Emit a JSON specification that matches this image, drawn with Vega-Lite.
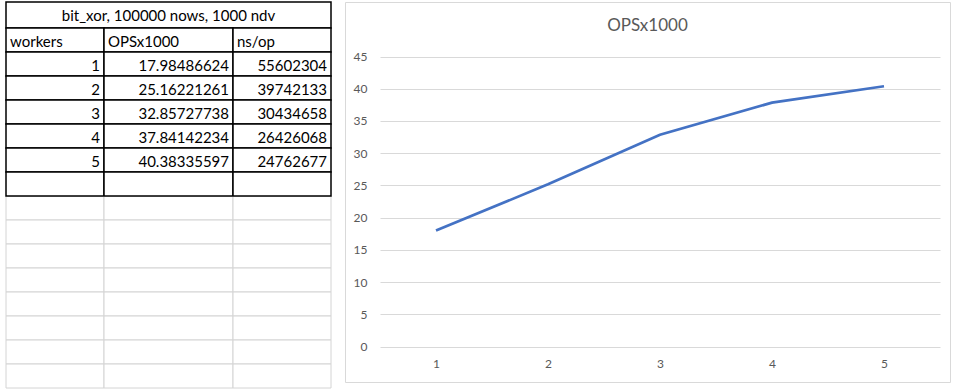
{
  "$schema": "https://vega.github.io/schema/vega-lite/v6.json",
  "padding": {"left": 5, "top": 1, "right": 0, "bottom": 0},
  "background": "white",
  "datasets": {
    "caption": [{"text": "bit_xor, 100000 nows, 1000 ndv"}],
    "table": [
      {"row": 0, "workers": "workers", "OPSx1000": "OPSx1000", "ns/op": "ns/op"},
      {"row": 1, "workers": "1", "OPSx1000": "17.98486624", "ns/op": "55602304"},
      {"row": 2, "workers": "2", "OPSx1000": "25.16221261", "ns/op": "39742133"},
      {"row": 3, "workers": "3", "OPSx1000": "32.85727738", "ns/op": "30434658"},
      {"row": 4, "workers": "4", "OPSx1000": "37.84142234", "ns/op": "26426068"},
      {"row": 5, "workers": "5", "OPSx1000": "40.38335597", "ns/op": "24762677"},
      {"row": 6, "workers": "", "OPSx1000": "", "ns/op": ""},
      {"row": 7, "workers": "", "OPSx1000": "", "ns/op": ""},
      {"row": 8, "workers": "", "OPSx1000": "", "ns/op": ""},
      {"row": 9, "workers": "", "OPSx1000": "", "ns/op": ""},
      {"row": 10, "workers": "", "OPSx1000": "", "ns/op": ""},
      {"row": 11, "workers": "", "OPSx1000": "", "ns/op": ""},
      {"row": 12, "workers": "", "OPSx1000": "", "ns/op": ""},
      {"row": 13, "workers": "", "OPSx1000": "", "ns/op": ""},
      {"row": 14, "workers": "", "OPSx1000": "", "ns/op": ""}
    ],
    "runs": [
      {"workers": 1, "ops": 17.98486624},
      {"workers": 2, "ops": 25.16221261},
      {"workers": 3, "ops": 32.85727738},
      {"workers": 4, "ops": 37.84142234},
      {"workers": 5, "ops": 40.38335597}
    ]
  },
  "config": {
    "view": {"stroke": null},
    "font": "Lato",
    "text": {"font": "Lato", "fontSize": 15, "color": "black"}
  },
  "hconcat": [
    {
      "bounds": "flush",
      "spacing": 0,
      "vconcat": [
        {
          "width": 325,
          "height": 26,
          "view": {"stroke": "black", "strokeWidth": 1.5, "fill": "white"},
          "data": {"name": "caption"},
          "mark": {"type": "text", "baseline": "middle", "dy": 1},
          "encoding": {"text": {"field": "text", "type": "nominal"}}
        },
        {
          "bounds": "flush",
          "spacing": 0,
          "hconcat": [
            {
              "width": 98,
              "height": 360,
              "data": {"name": "table"},
              "transform": [
                {"fold": ["workers", "OPSx1000", "ns/op"], "as": ["col", "text"]},
                {"filter": "datum.col === 'workers'"}
              ],
              "encoding": {
                "x": {"field": "col", "type": "nominal", "axis": null, "scale": {"paddingInner": 0, "paddingOuter": 0}},
                "y": {"field": "row", "type": "ordinal", "axis": null, "scale": {"domain": [0,1,2,3,4,5,6,7,8,9,10,11,12,13,14], "paddingInner": 0, "paddingOuter": 0}}
              },
              "layer": [
                {"transform": [{"filter": "datum.row > 6"}], "mark": {"type": "rect", "fill": "white", "stroke": "#d4d4d4", "strokeWidth": 1}},
                {"transform": [{"filter": "datum.row <= 6"}], "mark": {"type": "rect", "fill": "white", "stroke": "black", "strokeWidth": 1.5}},
                {"transform": [{"filter": "datum.row === 0"}],
                  "mark": {"type": "text", "align": "left", "dx": 4, "baseline": "middle", "dy": 2},
                  "encoding": {"x": {"field": "col", "type": "nominal", "bandPosition": 0, "axis": null, "scale": {"paddingInner": 0, "paddingOuter": 0}}, "text": {"field": "text", "type": "nominal"}}},
                {"transform": [{"filter": "datum.row > 0"}],
                  "mark": {"type": "text", "align": "right", "dx": -4, "baseline": "middle", "dy": 2},
                  "encoding": {"x": {"field": "col", "type": "nominal", "bandPosition": 1, "axis": null, "scale": {"paddingInner": 0, "paddingOuter": 0}}, "text": {"field": "text", "type": "nominal"}}}
              ]
            },
            {
              "width": 129,
              "height": 360,
              "data": {"name": "table"},
              "transform": [
                {"fold": ["workers", "OPSx1000", "ns/op"], "as": ["col", "text"]},
                {"filter": "datum.col === 'OPSx1000'"}
              ],
              "encoding": {
                "x": {"field": "col", "type": "nominal", "axis": null, "scale": {"paddingInner": 0, "paddingOuter": 0}},
                "y": {"field": "row", "type": "ordinal", "axis": null, "scale": {"domain": [0,1,2,3,4,5,6,7,8,9,10,11,12,13,14], "paddingInner": 0, "paddingOuter": 0}}
              },
              "layer": [
                {"transform": [{"filter": "datum.row > 6"}], "mark": {"type": "rect", "fill": "white", "stroke": "#d4d4d4", "strokeWidth": 1}},
                {"transform": [{"filter": "datum.row <= 6"}], "mark": {"type": "rect", "fill": "white", "stroke": "black", "strokeWidth": 1.5}},
                {"transform": [{"filter": "datum.row === 0"}],
                  "mark": {"type": "text", "align": "left", "dx": 4, "baseline": "middle", "dy": 2},
                  "encoding": {"x": {"field": "col", "type": "nominal", "bandPosition": 0, "axis": null, "scale": {"paddingInner": 0, "paddingOuter": 0}}, "text": {"field": "text", "type": "nominal"}}},
                {"transform": [{"filter": "datum.row > 0"}],
                  "mark": {"type": "text", "align": "right", "dx": -4, "baseline": "middle", "dy": 2},
                  "encoding": {"x": {"field": "col", "type": "nominal", "bandPosition": 1, "axis": null, "scale": {"paddingInner": 0, "paddingOuter": 0}}, "text": {"field": "text", "type": "nominal"}}}
              ]
            },
            {
              "width": 98,
              "height": 360,
              "data": {"name": "table"},
              "transform": [
                {"fold": ["workers", "OPSx1000", "ns/op"], "as": ["col", "text"]},
                {"filter": "datum.col === 'ns/op'"}
              ],
              "encoding": {
                "x": {"field": "col", "type": "nominal", "axis": null, "scale": {"paddingInner": 0, "paddingOuter": 0}},
                "y": {"field": "row", "type": "ordinal", "axis": null, "scale": {"domain": [0,1,2,3,4,5,6,7,8,9,10,11,12,13,14], "paddingInner": 0, "paddingOuter": 0}}
              },
              "layer": [
                {"transform": [{"filter": "datum.row > 6"}], "mark": {"type": "rect", "fill": "white", "stroke": "#d4d4d4", "strokeWidth": 1}},
                {"transform": [{"filter": "datum.row <= 6"}], "mark": {"type": "rect", "fill": "white", "stroke": "black", "strokeWidth": 1.5}},
                {"transform": [{"filter": "datum.row === 0"}],
                  "mark": {"type": "text", "align": "left", "dx": 4, "baseline": "middle", "dy": 2},
                  "encoding": {"x": {"field": "col", "type": "nominal", "bandPosition": 0, "axis": null, "scale": {"paddingInner": 0, "paddingOuter": 0}}, "text": {"field": "text", "type": "nominal"}}},
                {"transform": [{"filter": "datum.row > 0"}],
                  "mark": {"type": "text", "align": "right", "dx": -4, "baseline": "middle", "dy": 2},
                  "encoding": {"x": {"field": "col", "type": "nominal", "bandPosition": 1, "axis": null, "scale": {"paddingInner": 0, "paddingOuter": 0}}, "text": {"field": "text", "type": "nominal"}}}
              ]
            }
          ]
        }
      ]
    },
    {
      "width": 605,
      "height": 380,
      "view": {"stroke": "#d9d9d9", "strokeWidth": 1, "fill": "white"},
      "title": {"text": "OPSx1000", "offset": -31, "dy": 15, "fontSize": 17, "font": "Lato", "fontWeight": "normal", "color": "#595959", "anchor": "middle", "frame": "group", "baseline": "alphabetic"},
      "data": {"name": "runs"},
      "mark": {"type": "line", "color": "#4472c4", "strokeWidth": 2.75},
      "encoding": {
        "x": {"field": "workers", "type": "ordinal",
          "scale": {"range": [35, 595], "paddingInner": 0, "paddingOuter": 0},
          "axis": {"title": null, "labelAngle": 0, "domain": false, "ticks": false, "grid": false, "offset": -35.5, "labelPadding": 12, "labelColor": "#595959", "labelFontSize": 12, "labelFont": "Lato"}},
        "y": {"field": "ops", "type": "quantitative",
          "scale": {"domain": [0, 45], "range": [344.5, 54.5], "nice": false, "zero": true},
          "axis": {"title": null, "values": [0, 5, 10, 15, 20, 25, 30, 35, 40, 45], "domain": false, "ticks": false, "grid": true, "gridColor": "#d9d9d9", "gridWidth": 1, "offset": -35, "labelPadding": 13, "labelColor": "#595959", "labelFontSize": 12, "labelFont": "Lato"}}
      }
    }
  ],
  "spacing": 12
}
